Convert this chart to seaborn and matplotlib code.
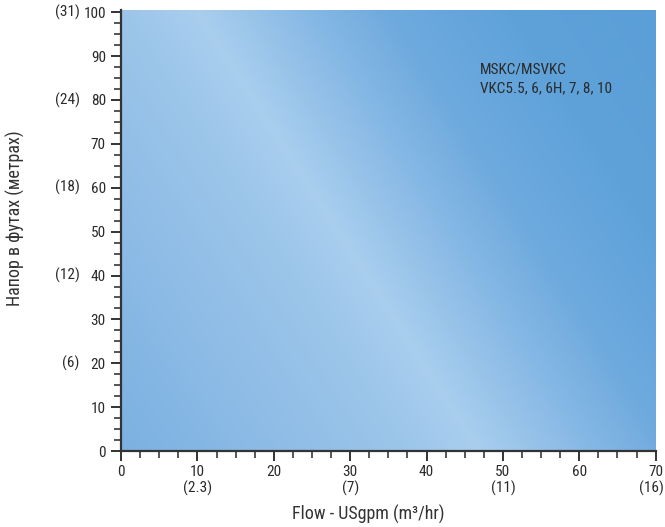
import numpy as np
import seaborn as sns
import matplotlib.pyplot as plt
from matplotlib.colors import LinearSegmentedColormap
from matplotlib.ticker import MultipleLocator

# chart data
flow_ticks = [0, 10, 20, 30, 40, 50, 60, 70]
flow_m3 = {10: "(2.3)", 30: "(7)", 50: "(11)", 70: "(16)"}
head_ticks = [0, 10, 20, 30, 40, 50, 60, 70, 80, 90, 100]
head_m = {100: "(31)", 80: "(24)", 60: "(18)", 40: "(12)", 20: "(6)"}
models = ["MSKC/MSVKC", "VKC5.5, 6, 6H, 7, 8, 10"]
flow_max = 70
head_max = 100.5

sns.set_theme(style="ticks")
plt.rcParams["font.family"] = ["Roboto Condensed", "DejaVu Sans"]
txt = "#2a2a2a"

fig = plt.figure(figsize=(6.65, 5.27), dpi=100)
ax = fig.add_axes([0.182, 0.144, 0.804, 0.837])

# diagonal blue gradient fill
w, h = 535, 441
px = 121 + np.linspace(0, 1, w)[None, :] * w
py = 10 + np.linspace(0, 1, h)[:, None] * h
s = (px - 200) * 0.84 - (py - 15) * 0.54
stops = [(-301, "#7cb1e1"), (-64, "#9cc5ea"), (0, "#a9ceee"), (80, "#8bbbe6"),
         (160, "#6eaade"), (260, "#5fa2da"), (385, "#5b9fd8")]
lo, hi = stops[0][0], stops[-1][0]
cmap = LinearSegmentedColormap.from_list(
    "flow", [((v - lo) / (hi - lo), c) for v, c in stops])
ax.imshow(s, cmap=cmap, vmin=lo, vmax=hi, extent=(0, flow_max, 0, head_max),
          aspect="auto", origin="upper", zorder=0)

ax.set_xlim(0, flow_max)
ax.set_ylim(0, head_max)
ax.set_xticks(flow_ticks)
ax.set_xticklabels([str(t) for t in flow_ticks])
ax.set_yticks(head_ticks)
ax.set_yticklabels([str(t) for t in head_ticks])
ax.xaxis.set_minor_locator(MultipleLocator(2.5))
ax.yaxis.set_minor_locator(MultipleLocator(2.5))
ax.tick_params(which="major", length=7, width=1.4, color="#333333",
               labelsize=11, labelcolor=txt, pad=3)
ax.tick_params(which="minor", length=5, width=1.4, color="#555555")
ax.tick_params(axis="y", which="major", pad=4)
sns.despine(ax=ax)
for sp in ("left", "bottom"):
    ax.spines[sp].set_color("#333333")
    ax.spines[sp].set_linewidth(1.6)

# metric equivalents
for y, lab in head_m.items():
    ax.text(-0.077, y, lab, transform=ax.get_yaxis_transform(),
            ha="right", va="center", fontsize=11, color=txt)
for x, lab in flow_m3.items():
    ax.text(min(x, flow_max - 0.5), -0.085, lab, transform=ax.get_xaxis_transform(),
            ha="center", va="center", fontsize=11, color=txt)

ax.text(47, 88.6, "\n".join(models), ha="left", va="top",
        fontsize=11, color=txt, linespacing=1.45)

fig.text(368 / 665, 1 - 514 / 527, "Flow - USgpm (m³/hr)", ha="center",
         va="center", fontsize=13, color="#333333")
fig.text(15 / 665, 1 - 218 / 527, "Напор в футах (метрах)", ha="center",
         va="center", rotation=90, fontsize=13, color="#333333")

fig.savefig("out.png", dpi=100)
